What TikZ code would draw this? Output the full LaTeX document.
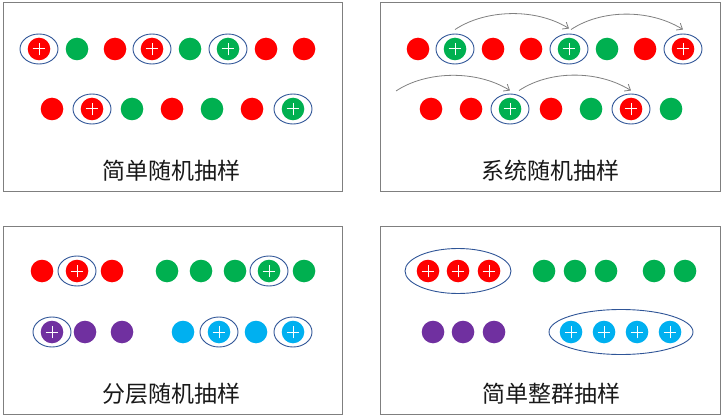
\documentclass[tikz,border=0pt]{standalone}
\usepackage{fontspec}
\newfontfamily\cjk{Noto Sans CJK SC}
\usetikzlibrary{shapes.geometric,arrows.meta}
\definecolor{cr}{HTML}{FF0000}
\definecolor{cg}{HTML}{00B050}
\definecolor{cp}{HTML}{7030A0}
\definecolor{cc}{HTML}{00B0F0}
\definecolor{ring}{HTML}{2F5597}
\definecolor{frame}{HTML}{7F7F7F}
\definecolor{arr}{HTML}{808080}
\tikzset{
  dot/.style={circle,fill=#1,draw=none,minimum size=22.6pt,inner sep=0pt},
  plus/.style={path picture={
     \draw[white,line width=1pt]
       ([xshift=-6.3pt]path picture bounding box.center) -- ([xshift=6.3pt]path picture bounding box.center)
       ([yshift=-6.3pt]path picture bounding box.center) -- ([yshift=6.3pt]path picture bounding box.center);}},
  ring/.style={ellipse,draw=ring,line width=0.9pt,inner sep=0pt},
  panel/.style={draw=frame,line width=1pt},
  title/.style={font=\cjk\fontsize{23}{23}\selectfont,text=black!90,inner sep=0pt},
  jump/.style={draw=arr,line width=0.8pt,-{Straight Barb[length=5pt,width=8pt]}}
}
\begin{document}
\begin{tikzpicture}[x=1pt,y=-1pt]
\useasboundingbox (0,0) rectangle (723,417);
% panels
\draw[panel] (3,3) rectangle (342,191);
\draw[panel] (380,3) rectangle (720,191);
\draw[panel] (3,226) rectangle (342,414);
\draw[panel] (380,226) rectangle (720,414);
% titles
\node[title] (t1) at (171,171) {简单随机抽样};
\node[title] (t2) at (550,171) {系统随机抽样};
\node[title] (t3) at (171,394) {分层随机抽样};
\node[title] (t4) at (551,394) {简单整群抽样};

% panel 1
\foreach \x/\c/\p [count=\i] in {39/cr/1,77/cg/0,115/cr/0,152/cr/1,190/cg/0,228/cg/1,266/cr/0,304/cr/0}{
  \ifnum\p=1
    \node[dot=\c,plus] (a\i) at (\x,49) {};
    \node[ring,minimum width=38pt,minimum height=30pt] (ra\i) at (\x,49) {};
  \else
    \node[dot=\c] (a\i) at (\x,49) {};
  \fi}
\foreach \x/\c/\p [count=\i] in {52/cr/0,92/cr/1,132/cg/0,172/cr/0,212/cg/0,252/cr/0,293/cg/1}{
  \ifnum\p=1
    \node[dot=\c,plus] (b\i) at (\x,109) {};
    \node[ring,minimum width=38pt,minimum height=30pt] (rb\i) at (\x,109) {};
  \else
    \node[dot=\c] (b\i) at (\x,109) {};
  \fi}

% panel 2
\foreach \x/\c/\p [count=\i] in {418/cr/0,455/cg/1,493/cr/0,531/cr/0,569/cg/1,607/cg/0,645/cr/0,683/cr/1}{
  \ifnum\p=1
    \node[dot=\c,plus] (c\i) at (\x,49) {};
    \node[ring,minimum width=38pt,minimum height=30pt] (rc\i) at (\x,49) {};
  \else
    \node[dot=\c] (c\i) at (\x,49) {};
  \fi}
\foreach \x/\c/\p [count=\i] in {431/cr/0,471/cr/0,510/cg/1,551/cr/0,591/cg/0,631/cr/1,671/cg/0}{
  \ifnum\p=1
    \node[dot=\c,plus] (d\i) at (\x,109) {};
    \node[ring,minimum width=38pt,minimum height=30pt] (rd\i) at (\x,109) {};
  \else
    \node[dot=\c] (d\i) at (\x,109) {};
  \fi}
\coordinate (s0) at (396,91);
\path[jump] ([yshift=4pt]rc2.north) .. controls +(30,-20) and +(-34,-21) .. ([yshift=5pt]rc5.north);
\path[jump] ([xshift=2pt,yshift=4pt]rc5.north) .. controls +(30,-20) and +(-34,-21) .. ([yshift=4pt]rc8.north);
\path[jump] (s0) .. controls +(30,-20) and +(-34,-21) .. ([yshift=3pt]rd3.north);
\path[jump] ([xshift=9pt,yshift=3pt]rd3.north) .. controls +(30,-20) and +(-34,-21) .. ([yshift=3pt]rd6.north);

% panel 3
\foreach \x/\c/\p [count=\i] in {42/cr/0,77/cr/1,112/cr/0,167/cg/0,201/cg/0,235/cg/0,269/cg/1,304/cg/0}{
  \ifnum\p=1
    \node[dot=\c,plus] (e\i) at (\x,271) {};
    \node[ring,minimum width=38pt,minimum height=30pt] (re\i) at (\x,271) {};
  \else
    \node[dot=\c] (e\i) at (\x,271) {};
  \fi}
\foreach \x/\c/\p [count=\i] in {52/cp/1,85/cp/0,122/cp/0,183/cc/0,219/cc/1,256/cc/0,293/cc/1}{
  \ifnum\p=1
    \node[dot=\c,plus] (f\i) at (\x,332) {};
    \node[ring,minimum width=38pt,minimum height=30pt] (rf\i) at (\x,332) {};
  \else
    \node[dot=\c] (f\i) at (\x,332) {};
  \fi}

% panel 4
\foreach \x/\c/\p [count=\i] in {428/cr/1,458/cr/1,489/cr/1,544/cg/0,575/cg/0,606/cg/0,654/cg/0,685/cg/0}{
  \ifnum\p=1
    \node[dot=\c,plus] (g\i) at (\x,271) {};
  \else
    \node[dot=\c] (g\i) at (\x,271) {};
  \fi}
\foreach \x/\c/\p [count=\i] in {433/cp/0,463/cp/0,494/cp/0,571/cc/1,604/cc/1,637/cc/1,670/cc/1}{
  \ifnum\p=1
    \node[dot=\c,plus] (h\i) at (\x,332) {};
  \else
    \node[dot=\c] (h\i) at (\x,332) {};
  \fi}
\node[ring,minimum width=106pt,minimum height=45pt] (rg) at (458,271) {};
\node[ring,minimum width=144pt,minimum height=45pt] (rh) at (621,332) {};
\end{tikzpicture}
\end{document}
